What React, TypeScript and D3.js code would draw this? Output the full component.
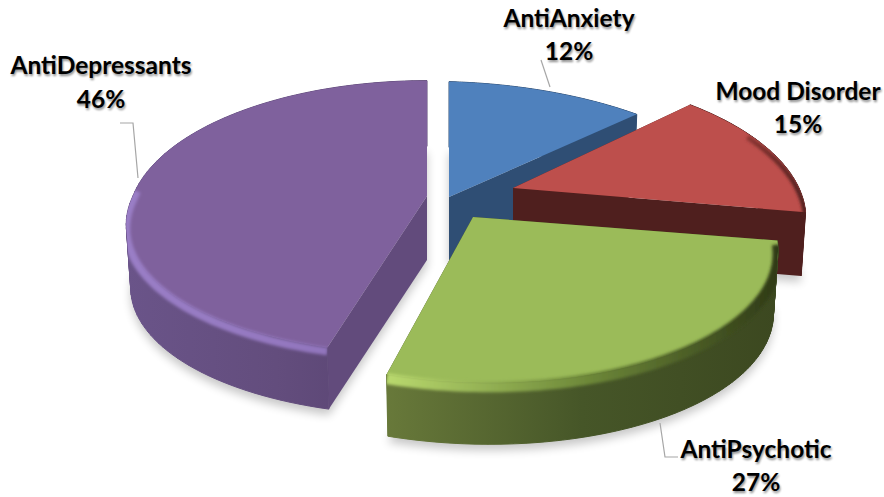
import React from "react";
import * as d3 from "d3";

const WIDTH = 884;
const HEIGHT = 497;

// Share of prescriptions per drug class, clockwise from twelve o'clock.
const categories = ["AntiAnxiety", "Mood Disorder", "AntiPsychotic", "AntiDepressants"];
const shares = [12, 15, 27, 46];

// Where each exploded slice has its tip on the page.
const tipX = [449, 513, 473, 427];
const tipY = [197, 188, 217, 196];

const topColors = ["#4f81bd", "#bd4f4c", "#9bbb59", "#7f619d"];
const faceColors = ["#2f4e74", "#4f1f1e", "#3e4a20", "#624b7c"];
const wallStops = [
  ["#2f4e74", "#2f4e74", "#2f4e74"],
  ["#4f1f1e", "#4f1f1e", "#4f1f1e"],
  ["#68793a", "#465628", "#3c4820"],
  ["#6a5489", "#634d7d", "#56416f"],
];
const bevelStops = [
  ["#4f81bd", "#4f81bd", "#3c6494"],
  ["#bd4f4c", "#8a3532", "#4f1f1e"],
  ["#b9d96e", "#6f8a3a", "#2f3a16"],
  ["#9a7ec6", "#9478c0", "#8b6fb5"],
];
const bevelWidth = [0, 5, 11, 8];
// The rim only catches light below this height, measured from the slice's tip.
const bevelFromY = [0, -55, -200, -12];

// Pie plane seen in perspective: the front of the circle sits closer to the eye.
const RX = 297;
const RY = 136;
const PERSPECTIVE = 0.179;
const DEPTH = 64;
const DEPTH_SCALE = 0.985;

// Small per-slice lens correction (xx, xy, yx, yy) plus a lean and squash of the near half.
const sliceWarp = [
  [1.044, 0, 0.028, 1],
  [0.972, -0.025, 0.023, 0.997],
  [1.0085, 0.023, 0.02, 1],
  [0.99, 0, 0, 1],
];
const nearLean = [0, 0, 0, -0.07];
const nearSquash = [1, 1, 1, 0.95];

type Pt = [number, number];

const project = (index: number, angle: number): Pt => {
  const u = Math.sin(angle);
  const v = -Math.cos(angle);
  const w = 1 - PERSPECTIVE * v;
  const x = (RX * u) / w;
  const y = (RY * v) / w;
  const [a, b, c, d] = sliceWarp[index];
  const px = a * x + b * y;
  const py = c * x + d * y;
  return py > 0 ? [px + nearLean[index] * py, py * nearSquash[index]] : [px, py];
};

const line = d3.line<Pt>().x((d) => d[0]).y((d) => d[1]);
const arcSamples = (a0: number, a1: number) =>
  d3.range(0, 97).map((i) => a0 + ((a1 - a0) * i) / 96);

const slices = d3
  .pie<number>()
  .sort(null)
  .startAngle(0)
  .endAngle(2 * Math.PI)(shares);

const lowered = (p: Pt): Pt => [p[0] * DEPTH_SCALE, p[1] * DEPTH_SCALE + DEPTH];

const labelFont = "Lato, 'Open Sans', sans-serif";

// Label text: centre x, name baseline, percentage baseline.
const labelX = [569, 798, 756, 101];
const labelNameY = [27, 100, 458, 74];
const labelShareY = [60, 133, 491, 108];

// Leader polylines, only where a label sits off its slice.
const leaders: Pt[][] = [
  [[541, 60], [550, 87]],
  [],
  [[660, 423], [665, 457], [678, 457]],
  [[120, 123], [133, 123], [138, 178]],
];

// Painting order: back slices first so the front ones overlap them.
const drawOrder = [0, 1, 3, 2];

function Slice({ index }: { index: number }) {
  const s = slices[index];
  const rim = arcSamples(s.startAngle, s.endAngle).map((a) => project(index, a));
  const tip: Pt = [0, 0];
  const tipBelow = lowered(tip);
  const first = rim[0];
  const last = rim[rim.length - 1];

  const topPath = line([tip, ...rim]) + "Z";
  // The curved wall is a run of small quads so that the outline stays filled where it folds.
  const wallPath = rim
    .slice(1)
    .map((p, i) => {
      const q = rim[i];
      const quad: Pt[] = [q, p, lowered(p), lowered(q)];
      const area = d3.polygonArea(quad);
      return line(area > 0 ? quad : [...quad].reverse()) + "Z";
    })
    .join("");
  const startFace = line([tip, first, lowered(first), tipBelow]) + "Z";
  const endFace = line([tip, last, lowered(last), tipBelow]) + "Z";
  const bevelRim = rim
    .filter((p) => p[1] > bevelFromY[index])
    .map((p) => [p[0], p[1] + 4] as Pt);
  const clipId = `clip-${index}`;

  return (
    <g transform={`translate(${tipX[index]},${tipY[index]})`}>
      <clipPath id={clipId}>
        <path d={wallPath} />
        <path d={topPath} />
      </clipPath>
      <path d={startFace} fill={faceColors[index]} />
      <path d={endFace} fill={faceColors[index]} />
      <path d={wallPath} fill={`url(#wall-${index})`} stroke={`url(#wall-${index})`} strokeWidth={1} strokeLinejoin="round" />
      <path d={topPath} fill={topColors[index]} />
      {bevelWidth[index] > 0 && (
        <g clipPath={`url(#${clipId})`}>
          <path
            d={line(bevelRim) ?? ""}
            fill="none"
            stroke={`url(#bevel-${index})`}
            strokeWidth={bevelWidth[index]}
            filter="url(#soft)"
          />
        </g>
      )}
    </g>
  );
}

export default function App() {
  return (
    <svg
      width={WIDTH}
      height={HEIGHT}
      viewBox={`0 0 ${WIDTH} ${HEIGHT}`}
      style={{ position: "absolute", left: 0, top: 0, background: "#fff" }}
    >
      <defs>
        <filter id="soft" x="-20%" y="-20%" width="140%" height="140%">
          <feGaussianBlur stdDeviation="1.8" />
        </filter>
        <filter id="ground" x="-20%" y="-20%" width="140%" height="140%">
          <feGaussianBlur stdDeviation="5" />
        </filter>
        <filter id="textShadow" x="-10%" y="-30%" width="120%" height="160%">
          <feGaussianBlur stdDeviation="1.1" />
        </filter>
        {slices.map((s, i) => {
          const xs = arcSamples(s.startAngle, s.endAngle).map((a) => project(i, a)[0]);
          const [x0, x1] = d3.extent(xs) as [number, number];
          const gradient = (id: string, stops: string[]) => (
            <linearGradient
              key={id}
              id={id}
              gradientUnits="userSpaceOnUse"
              x1={x0}
              x2={x1}
              y1={0}
              y2={0}
            >
              {stops.map((c, k) => (
                <stop key={k} offset={k / (stops.length - 1)} stopColor={c} />
              ))}
            </linearGradient>
          );
          return (
            <React.Fragment key={i}>
              {gradient(`wall-${i}`, wallStops[i])}
              {gradient(`bevel-${i}`, bevelStops[i])}
            </React.Fragment>
          );
        })}
      </defs>

      {/* Soft shadow each slice casts on the ground */}
      {slices.map((s, i) => {
        const rim = arcSamples(s.startAngle, s.endAngle).map((a) => lowered(project(i, a)));
        return (
          <path
            key={i}
            transform={`translate(${tipX[i]},${tipY[i] + 6})`}
            d={line([lowered([0, 0]), ...rim]) + "Z"}
            fill="#000"
            opacity={0.22}
            filter="url(#ground)"
          />
        );
      })}

      {drawOrder.map((i) => (
        <Slice key={i} index={i} />
      ))}

      {leaders.map((pts, i) =>
        pts.length ? (
          <path key={i} d={line(pts) ?? ""} fill="none" stroke="#a6a6a6" strokeWidth={1.2} />
        ) : null
      )}

      {categories.map((name, i) => (
        <g key={name} fontFamily={labelFont} fontWeight={700} fontSize={24.5} textAnchor="middle">
          <g fill="#000" opacity={0.45} filter="url(#textShadow)" transform="translate(1,1.5)">
            <text x={labelX[i]} y={labelNameY[i]}>{name}</text>
            <text x={labelX[i]} y={labelShareY[i]}>{`${shares[i]}%`}</text>
          </g>
          <g fill="#000">
            <text x={labelX[i]} y={labelNameY[i]}>{name}</text>
            <text x={labelX[i]} y={labelShareY[i]}>{`${shares[i]}%`}</text>
          </g>
        </g>
      ))}
    </svg>
  );
}
